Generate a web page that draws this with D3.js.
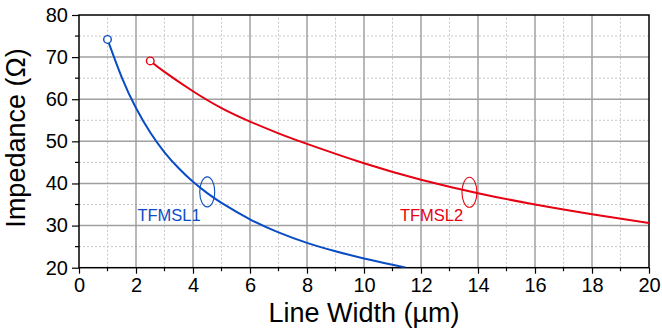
<!DOCTYPE html>
<html>
<head>
<meta charset="utf-8">
<script src="https://cdn.jsdelivr.net/npm/d3@7"></script>
<style>
	body { margin: 0; background: #fff; }
	text { font-family: "Liberation Sans", Arial, sans-serif; }
</style>
</head>
<body>
<script>
// line width (um) vs impedance (ohm)
const tfmsl1 = [
	[1, 74.2], [1.5, 65.2], [2, 57.9], [2.5, 52.1], [3, 47.4], [3.5, 43.6],
	[4, 40.4], [4.5, 37.7], [5, 35.4], [6, 31.5], [7, 28.4], [8, 25.9],
	[9, 23.9], [10, 22.2], [11, 20.7], [11.45, 20.05]
];
const tfmsl2 = [
	[2.5, 69.1], [3, 66.5], [4, 61.9], [5, 57.9], [6, 54.7], [7, 51.9],
	[8, 49.4], [10, 44.8], [12, 40.9], [14, 37.7], [16, 35], [18, 32.7], [20, 30.6]
];
const seriesNames = ["TFMSL1", "TFMSL2"];
const labelAt = [[2.05, 31.1], [11.26, 31.1]];   // label anchor, data units
const ellipseAt = [[4.5, 38], [13.7, 37.9]];   // annotation ellipses, data units
const xTicks = [0, 2, 4, 6, 8, 10, 12, 14, 16, 18, 20];
const yTicks = [20, 30, 40, 50, 60, 70, 80];

const width = 662,
	height = 331;
const margin = {top: 15, right: 13, bottom: 64, left: 79};
const colors = ["#0a4cc4", "#e60012"];

const svg = d3.select("body")
	.append("svg")
	.attr("width", width)
	.attr("height", height);

const x = d3.scaleLinear().domain([0, 20]).range([margin.left, width - margin.right]);
const y = d3.scaleLinear().domain([20, 80]).range([height - margin.bottom + 0.7, margin.top]);

const minorX = d3.range(1, 20, 2);
const minorY = d3.range(25, 80, 10);

// minor grid
svg.append("g")
	.selectAll("line")
	.data(minorX)
	.join("line")
	.attr("x1", d => x(d)).attr("x2", d => x(d))
	.attr("y1", y(20)).attr("y2", y(80))
	.attr("stroke", "#c8c8c8").attr("stroke-dasharray", "2,2");
svg.append("g")
	.selectAll("line")
	.data(minorY)
	.join("line")
	.attr("x1", x(0)).attr("x2", x(20))
	.attr("y1", d => y(d)).attr("y2", d => y(d))
	.attr("stroke", "#c8c8c8").attr("stroke-dasharray", "2,2");

// major grid
svg.append("g")
	.selectAll("line")
	.data(xTicks.slice(1, -1))
	.join("line")
	.attr("x1", d => x(d)).attr("x2", d => x(d))
	.attr("y1", y(20)).attr("y2", y(80))
	.attr("stroke", "#a0a0a0").attr("stroke-width", 1.5);
svg.append("g")
	.selectAll("line")
	.data(yTicks.slice(1, -1))
	.join("line")
	.attr("x1", x(0)).attr("x2", x(20))
	.attr("y1", d => y(d)).attr("y2", d => y(d))
	.attr("stroke", "#a0a0a0").attr("stroke-width", 1.5);

// axes
const xAxis = d3.axisBottom(x).tickValues(xTicks).tickSize(6).tickPadding(4);
const yAxis = d3.axisLeft(y).tickValues(yTicks).tickSize(7).tickPadding(4);

const gx = svg.append("g")
	.attr("transform", "translate(0," + y(20) + ")")
	.call(xAxis);
const gy = svg.append("g")
	.attr("transform", "translate(" + x(0) + ",0)")
	.call(yAxis);

[gx, gy].forEach(g => {
	g.select(".domain").remove();
	g.selectAll("line").attr("stroke", "#000").attr("stroke-width", 1.2);
	g.selectAll("text").attr("font-size", 20).attr("fill", "#000")
		.style("font-family", "'Liberation Sans', Arial, sans-serif");
});

svg.append("g")
	.selectAll("line")
	.data(minorX)
	.join("line")
	.attr("x1", d => x(d)).attr("x2", d => x(d))
	.attr("y1", y(20)).attr("y2", y(20) + 3.5)
	.attr("stroke", "#000").attr("stroke-width", 1.2);
svg.append("g")
	.selectAll("line")
	.data(minorY)
	.join("line")
	.attr("x1", x(0) - 4).attr("x2", x(0))
	.attr("y1", d => y(d)).attr("y2", d => y(d))
	.attr("stroke", "#000").attr("stroke-width", 1.2);

// frame
svg.append("rect")
	.attr("x", x(0)).attr("y", y(80))
	.attr("width", x(20) - x(0)).attr("height", y(20) - y(80))
	.attr("fill", "none").attr("stroke", "#000").attr("stroke-width", 1.5);

svg.append("clipPath").attr("id", "plot")
	.append("rect")
	.attr("x", x(0)).attr("y", y(80))
	.attr("width", x(20) - x(0)).attr("height", y(20) - y(80));

const line = d3.line()
	.x(d => x(d[0]))
	.y(d => y(d[1]))
	.curve(d3.curveNatural);

[tfmsl1, tfmsl2].forEach((s, i) => {
	svg.append("path")
		.attr("clip-path", "url(#plot)")
		.attr("d", line(s))
		.attr("fill", "none")
		.attr("stroke", colors[i])
		.attr("stroke-width", 2);

	svg.append("circle")
		.attr("cx", x(s[0][0])).attr("cy", y(s[0][1]))
		.attr("r", 3.8)
		.attr("fill", "#fff")
		.attr("stroke", colors[i])
		.attr("stroke-width", 1.4);

	svg.append("ellipse")
		.attr("cx", x(ellipseAt[i][0])).attr("cy", y(ellipseAt[i][1]))
		.attr("rx", 7.5).attr("ry", 15)
		.attr("fill", "none")
		.attr("stroke", colors[i])
		.attr("stroke-width", 1.1);

	svg.append("text")
		.attr("x", x(labelAt[i][0])).attr("y", y(labelAt[i][1]))
		.attr("font-size", 16.5)
		.attr("fill", colors[i])
		.text(seriesNames[i]);
});

// titles
svg.append("text")
	.attr("x", (x(0) + x(20)) / 2)
	.attr("y", 322)
	.attr("text-anchor", "middle")
	.attr("font-size", 27)
	.text("Line Width (µm)");

svg.append("text")
	.attr("transform", "translate(24.5,138) rotate(-90)")
	.attr("text-anchor", "middle")
	.attr("font-size", 27)
	.text("Impedance (Ω)");
</script>
</body>
</html>
